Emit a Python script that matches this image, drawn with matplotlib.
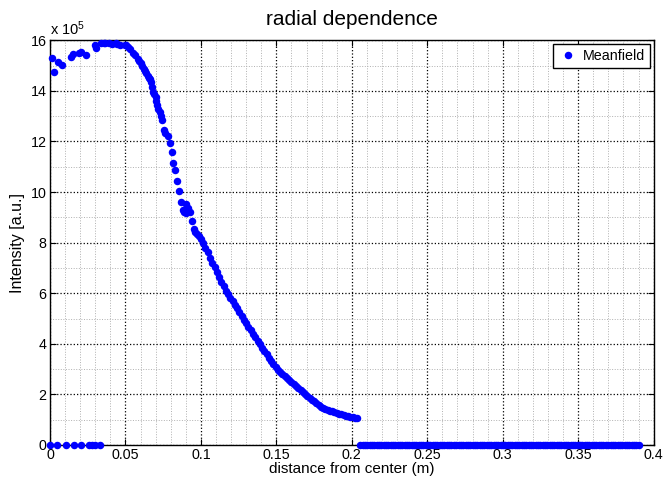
import numpy as np
import matplotlib
matplotlib.use("Agg")
import matplotlib.pyplot as plt
from matplotlib.ticker import MultipleLocator, FormatStrFormatter

plt.rcParams["font.family"] = ["Liberation Sans", "DejaVu Sans"]
plt.rcParams["mathtext.default"] = "regular"

# intensity values in units of 1e5 (a.u.), distance in m
top_x = [0.001, 0.0025, 0.005, 0.008, 0.0136, 0.0154, 0.019, 0.0202, 0.024,
         0.0297, 0.0306, 0.034, 0.0356, 0.0363, 0.039, 0.041, 0.0434, 0.0445,
         0.0467, 0.050]
top_y = [15.3, 14.73, 15.15, 15.02, 15.35, 15.44, 15.48, 15.55, 15.41,
         15.81, 15.68, 15.9, 15.9, 15.88, 15.9, 15.85, 15.9, 15.87,
         15.81, 15.81]

steep_x = [0.0505, 0.052, 0.0533, 0.055, 0.0566, 0.058, 0.059, 0.060, 0.061,
           0.062, 0.063, 0.0635, 0.0648, 0.0655, 0.066, 0.0667, 0.0675,
           0.0683, 0.069, 0.0699, 0.0705, 0.071, 0.0718, 0.0727, 0.0735,
           0.0743, 0.0758, 0.0764, 0.078, 0.0793, 0.0809, 0.0816,
           0.0826, 0.0842, 0.0853, 0.0869, 0.0882, 0.0886, 0.0904, 0.0913,
           0.0904, 0.0926, 0.0942, 0.0952, 0.0963, 0.0975, 0.0987]
steep_y = [15.8, 15.72, 15.65, 15.5, 15.4, 15.25, 15.18, 15.1, 14.98,
           14.85, 14.78, 14.72, 14.6, 14.52, 14.45, 14.33, 14.15,
           13.96, 13.87, 13.77, 13.6, 13.44, 13.3, 13.17, 13.0,
           12.85, 12.45, 12.35, 12.2, 11.95, 11.59, 11.13,
           10.87, 10.43, 10.04, 9.62, 9.29, 9.22, 9.53, 9.36,
           9.16, 9.22, 8.87, 8.52, 8.4, 8.35, 8.25]

tail_x = [0.100, 0.1015, 0.103, 0.1045, 0.106, 0.1075, 0.109, 0.1105, 0.112,
          0.1135, 0.115, 0.1165, 0.118, 0.1195, 0.121, 0.1225, 0.124, 0.1255,
          0.127, 0.1285, 0.130, 0.1315, 0.133, 0.1345, 0.136, 0.1375, 0.139,
          0.1405, 0.142, 0.1435, 0.145, 0.1465, 0.148, 0.1495, 0.151, 0.1525,
          0.154, 0.1555, 0.157, 0.1585, 0.160, 0.1615, 0.163, 0.1645, 0.166,
          0.1675, 0.169, 0.1705, 0.172, 0.1735, 0.175, 0.1765, 0.178, 0.1795,
          0.181, 0.1825, 0.184, 0.1855, 0.187, 0.1885, 0.190, 0.1915, 0.193,
          0.1945, 0.196, 0.1975, 0.199, 0.2005, 0.202, 0.2035]
tail_y = [8.15, 8.0, 7.8, 7.62, 7.38, 7.2, 7.05, 6.85, 6.65,
          6.45, 6.28, 6.1, 5.95, 5.82, 5.68, 5.55, 5.4, 5.25,
          5.1, 4.95, 4.82, 4.68, 4.54, 4.4, 4.25, 4.12, 3.98,
          3.85, 3.72, 3.58, 3.45, 3.32, 3.2, 3.08, 2.96, 2.87,
          2.8, 2.72, 2.64, 2.56, 2.48, 2.4, 2.32, 2.24, 2.16,
          2.08, 2.0, 1.93, 1.86, 1.79, 1.72, 1.65, 1.58, 1.52,
          1.46, 1.41, 1.38, 1.36, 1.33, 1.3, 1.27, 1.24, 1.21,
          1.18, 1.15, 1.13, 1.11, 1.09, 1.07, 1.05]

zero_left_x = [0.0003, 0.0048, 0.0103, 0.0158, 0.0207, 0.0257, 0.028, 0.030, 0.033]
# radial sample grid where the profile is zero
zero_right_x = np.linspace(0.2056, 0.3900, 120)

x = np.concatenate([zero_left_x, top_x, steep_x, tail_x, zero_right_x])
y = np.concatenate([np.zeros(len(zero_left_x)), top_y, steep_y, tail_y,
                    np.zeros(len(zero_right_x))])

fig = plt.figure(figsize=(6.67, 4.83), dpi=100)
ax = fig.add_axes([0.075, 0.0787, 0.905, 0.838])

ax.plot(x, y, "o", color=(0, 0, 1), markersize=5.4, markeredgewidth=0,
        label="Meanfield", clip_on=False, zorder=3)

ax.set_xlim(0, 0.4)
ax.set_ylim(0, 16)
ax.xaxis.set_major_locator(MultipleLocator(0.05))
ax.xaxis.set_minor_locator(MultipleLocator(0.01))
ax.yaxis.set_major_locator(MultipleLocator(2))
ax.yaxis.set_minor_locator(MultipleLocator(1))
ax.xaxis.set_major_formatter(FormatStrFormatter("%g"))
ax.yaxis.set_major_formatter(FormatStrFormatter("%g"))

ax.grid(True, which="major", linestyle=":", color="black", linewidth=0.9)
ax.grid(True, which="minor", linestyle=":", color="#b0b0b0", linewidth=0.7)
ax.set_axisbelow(True)

ax.tick_params(which="both", direction="in", top=True, right=True,
               labelsize=10.3, colors="black")
ax.tick_params(which="major", length=4, width=0.8, pad=2.5)
ax.tick_params(which="minor", length=0)
for s in ax.spines.values():
    s.set_linewidth(1.0)
    s.set_color("black")

ax.set_xlabel("distance from center (m)", fontsize=11, labelpad=0)
ax.set_ylabel("Intensity [a.u.]", fontsize=11.5, labelpad=4)
ax.set_title("radial dependence", fontsize=15, pad=11)
ax.text(0.0, 1.006, r"x 10$^5$", transform=ax.transAxes, fontsize=10.5,
        ha="left", va="bottom")

leg = ax.legend(loc="upper right", fontsize=10.3, fancybox=False, framealpha=1,
                edgecolor="black", handlelength=1.44, handletextpad=0.3,
                borderpad=0.35, borderaxespad=0.25, markerscale=1.0)
leg.get_frame().set_linewidth(1.0)

fig.savefig("out.png", dpi=100)
